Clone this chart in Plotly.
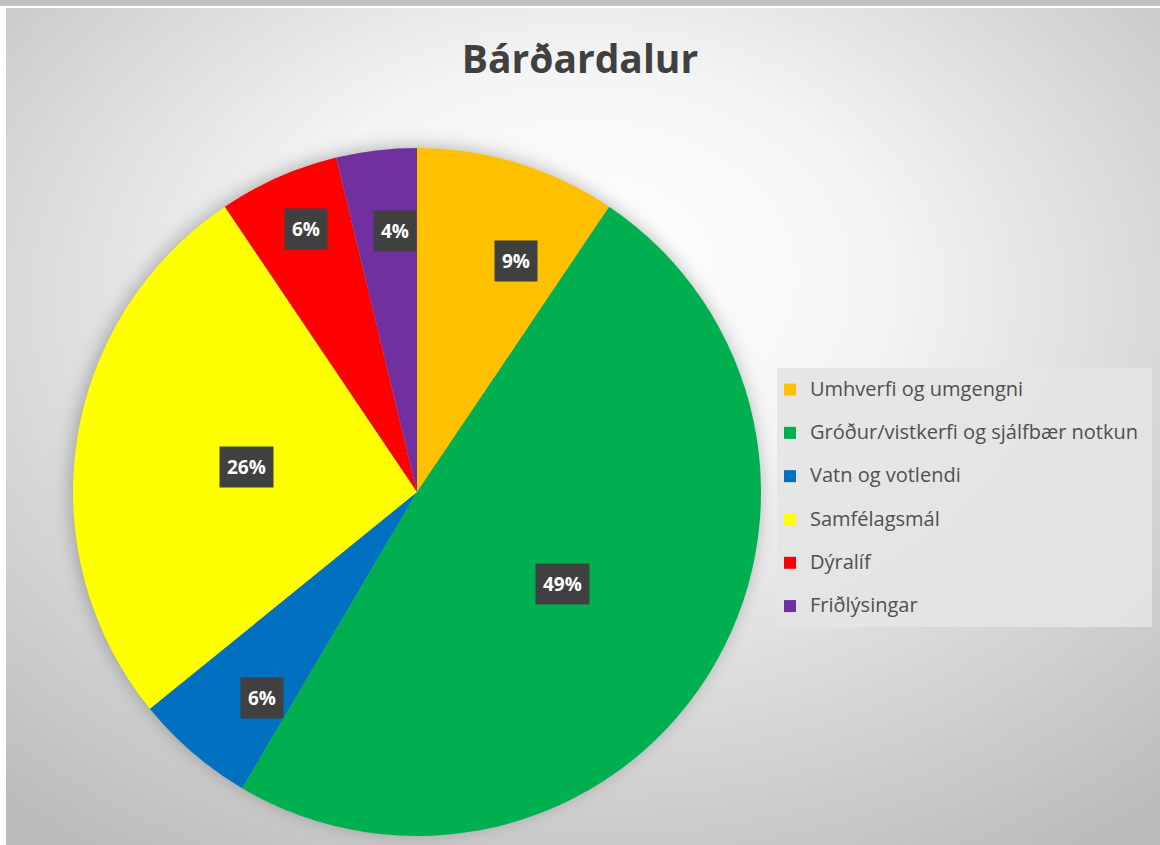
import base64
import math
import plotly.graph_objects as go

# ---- data ----
categories = [
    "Umhverfi og umgengni",
    "Gróður/vistkerfi og sjálfbær notkun",
    "Vatn og votlendi",
    "Samfélagsmál",
    "Dýralíf",
    "Friðlýsingar",
]
counts = [5, 26, 3, 14, 3, 2]
colors = ["#FFC000", "#00B050", "#0070C0", "#FFFF00", "#FF0000", "#7030A0"]
title_text = "Bárðardalur"

# ---- layout constants ----
W, H = 1160, 845
dom_x = [73 / W, 761 / W]
dom_y = [(H - 836) / H, (H - 148) / H]
label_radius_frac = [0.73, 0.5, 0.75, 0.5, 0.83, 0.76]
label_angle_shift = [6.2, 0.0, -3.7, 0.0, 1.0, 2.0]  # degrees, "best fit" nudges

cx_px = (dom_x[0] + dom_x[1]) / 2 * W
cy_px = H - (dom_y[0] + dom_y[1]) / 2 * H
r_px = min((dom_x[1] - dom_x[0]) * W, (dom_y[1] - dom_y[0]) * H) / 2

# background radial gradient + soft shadow under the pie, as svg image
svg = f'''<svg xmlns="http://www.w3.org/2000/svg" width="{W}" height="{H}" viewBox="0 0 {W} {H}" preserveAspectRatio="none">
<defs><radialGradient id="g" cx="50%" cy="38%" r="75%" fx="50%" fy="30%">
<stop offset="0%" stop-color="#ffffff"/>
<stop offset="35%" stop-color="#f4f4f4"/>
<stop offset="100%" stop-color="#bcbcbc"/>
</radialGradient>
<filter id="b" x="-20%" y="-20%" width="140%" height="140%"><feGaussianBlur stdDeviation="9"/></filter></defs>
<rect width="{W}" height="{H}" fill="url(#g)"/>
<circle cx="{cx_px - 6:.1f}" cy="{cy_px - 8 + 2:.1f}" r="{r_px + 2:.1f}" fill="#000" fill-opacity="0.28" filter="url(#b)"/>
</svg>'''
bg_src = "data:image/svg+xml;base64," + base64.b64encode(svg.encode("utf-8")).decode()

legend_labels = [f'<span style="font-size:20px">{c}</span><br> ' for c in categories]

fig = go.Figure()
fig.add_trace(go.Pie(
    labels=legend_labels,
    values=counts,
    marker=dict(colors=colors, line=dict(width=0)),
    sort=False,
    direction="clockwise",
    rotation=0,
    textinfo="none",
    hovertext=categories,
    hoverinfo="text+percent",
    domain=dict(x=dom_x, y=dom_y),
))

# data labels in dark boxes, positioned from the slice mid angles
total = sum(counts)
cum = 0
annotations = []
for v, f, da in zip(counts, label_radius_frac, label_angle_shift):
    theta = 2 * math.pi * (cum + v / 2) / total + math.radians(da)
    cum += v
    px = cx_px + f * r_px * math.sin(theta)
    py = cy_px - f * r_px * math.cos(theta)
    annotations.append(dict(
        x=px / W, y=(H - py) / H, xref="paper", yref="paper",
        xanchor="center", yanchor="middle",
        text=f"<b>{round(100 * v / total)}%</b>", showarrow=False,
        font=dict(family="Open Sans", size=19, color="#ffffff"),
        bgcolor="#404040", borderpad=7,
    ))

fig.update_layout(
    width=W, height=H,
    margin=dict(l=0, r=0, t=0, b=0),
    paper_bgcolor="#ffffff",
    plot_bgcolor="rgba(0,0,0,0)",
    title=dict(text=f"<b>{title_text}</b>", x=0.5, xanchor="center",
               y=(H - 59) / H, yanchor="middle",
               font=dict(family="Open Sans", size=39, color="#404040")),
    images=[dict(source=bg_src, xref="paper", yref="paper", x=6 / W, y=(H - 8) / H,
                 sizex=(W - 6) / W, sizey=(H - 8) / H, xanchor="left", yanchor="top",
                 sizing="stretch", layer="below")],
    shapes=[
        dict(type="rect", xref="paper", yref="paper", x0=0, x1=1,
             y0=(H - 6) / H, y1=1, fillcolor="#c0c0c0", line=dict(width=0)),
        dict(type="rect", xref="paper", yref="paper", x0=777 / W, x1=1152 / W,
             y0=(H - 627) / H, y1=(H - 368) / H, fillcolor="rgba(228,228,228,0.9)",
             line=dict(width=0), layer="below"),
    ],
    legend=dict(
        x=770 / W, y=(H - 373) / H, xanchor="left", yanchor="top",
        bgcolor="rgba(0,0,0,0)", borderwidth=0,
        font=dict(family="Open Sans", size=15.5, color="#505050"),
        valign="top",
    ),
    annotations=annotations,
)

fig.write_html("out.html", post_script="document.body.style.margin='0';",
               config={"displayModeBar": False})
